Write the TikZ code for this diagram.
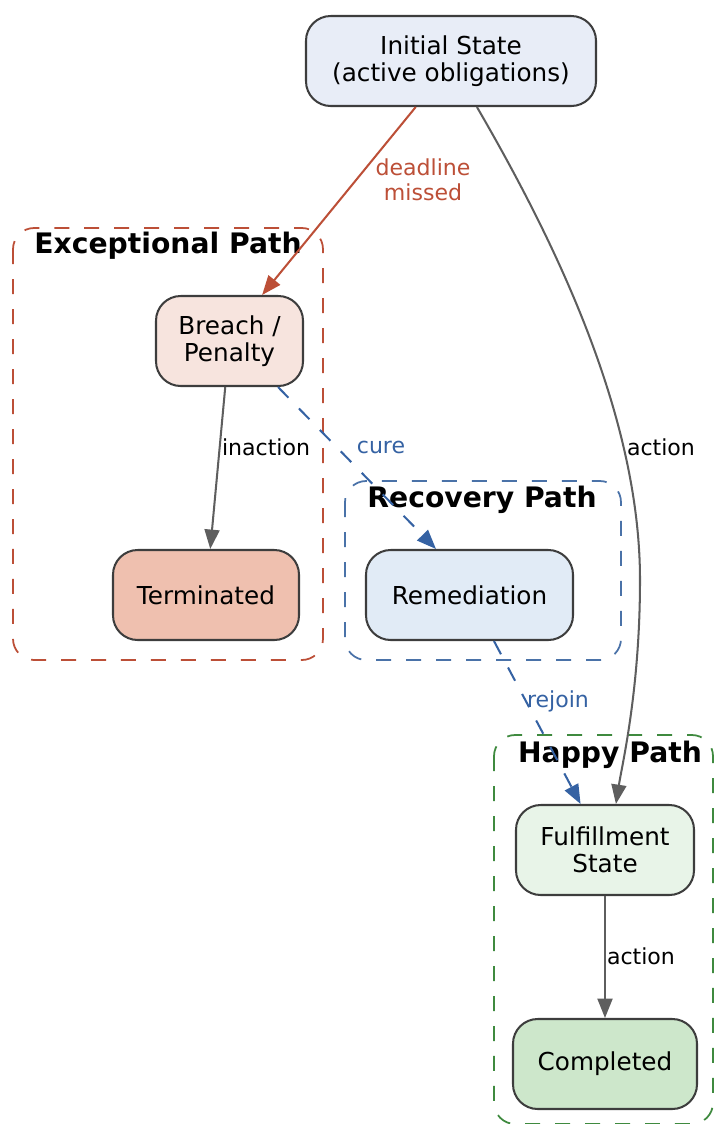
\documentclass[tikz,border=0pt]{standalone}
\usepackage{fontspec}
\setmainfont{DejaVu Sans}[BoldFont={DejaVu Sans Bold}]
\usetikzlibrary{arrows.meta}
\definecolor{nodeline}{HTML}{3D3D3D}
\definecolor{edgegray}{HTML}{5E5E5E}
\definecolor{exred}{HTML}{BC4F37}
\definecolor{recblue}{HTML}{3562A3}
\definecolor{clublue}{HTML}{4A72A8}
\definecolor{hapgreen}{HTML}{3F8A3F}
\definecolor{fillinit}{HTML}{E8EDF7}
\definecolor{fillbreach}{HTML}{F7E4DE}
\definecolor{fillterm}{HTML}{EFC0AF}
\definecolor{fillrem}{HTML}{E1EBF6}
\definecolor{fillfulf}{HTML}{E8F4E8}
\definecolor{fillcomp}{HTML}{CDE7CB}
\begin{document}
\begin{tikzpicture}[x=0.567pt,y=-0.567pt,
  state/.style={draw=nodeline, line width=1.15pt, rounded corners=14pt, inner sep=0pt,
    align=center, font=\fontsize{14}{15}\selectfont},
  cluster/.style={line width=1pt, dash pattern=on 8.5pt off 8.5pt, rounded corners=12pt},
  ctitle/.style={font=\fontsize{16}{17}\selectfont\bfseries, inner sep=0pt},
  elabel/.style={font=\fontsize{12.5}{14}\selectfont, align=center, inner sep=0pt},
  tip/.style={-{Triangle[length=11pt,width=8.5pt]}},
  grayedge/.style={tip, draw=edgegray, line width=1.15pt},
  blueedge/.style={tip, draw=recblue, line width=1.15pt, dash pattern=on 8.5pt off 8.5pt},
]
\useasboundingbox (0,0) rectangle (715,1124);

% clusters
\draw[cluster, draw=exred] (13,228) rectangle (323,660);
\node[ctitle] (tex) at (168,246) {Exceptional Path};
\draw[cluster, draw=clublue] (345,481) rectangle (621,660);
\node[ctitle] (trec) at (482,500) {Recovery Path};
\draw[cluster, draw=hapgreen] (494,735) rectangle (713,1124);
\node[ctitle] (thap) at (610,755) {Happy Path};

% nodes
\node[state, fill=fillinit, minimum width=290*0.567pt, minimum height=90*0.567pt] (init) at (451,61) {Initial State\\(active obligations)};
\node[state, fill=fillbreach, minimum width=147*0.567pt, minimum height=90*0.567pt] (breach) at (229.5,341) {Breach /\\Penalty};
\node[state, fill=fillterm, minimum width=186*0.567pt, minimum height=90*0.567pt] (term) at (206,595) {Terminated};
\node[state, fill=fillrem, minimum width=207*0.567pt, minimum height=90*0.567pt] (rem) at (469.5,595) {Remediation};
\node[state, fill=fillfulf, minimum width=178*0.567pt, minimum height=90*0.567pt] (fulf) at (605,850) {Fulfillment\\State};
\node[state, fill=fillcomp, minimum width=184*0.567pt, minimum height=90*0.567pt] (comp) at (605,1064) {Completed};

% edges
\draw[tip, draw=exred, line width=1.15pt] ([xshift=-20pt]init.south) -- ([xshift=18.5pt]breach.north);
\node[elabel, text=exred] (l1) at (423,180) {deadline\\missed};

\draw[grayedge] ([xshift=14.7pt]init.south) .. controls (560,250) and (640,420) .. (640,580)
   .. controls (640,690) and (622,765) .. ([xshift=6.2pt]fulf.north);
\node[elabel] (l2) at (661,447) {action};

\draw[grayedge] (breach) -- (term);
\node[elabel] (l3) at (266,447) {inaction};

\draw[blueedge] ([xshift=27.5pt]breach.south) -- ([xshift=-19pt]rem.north);
\node[elabel, text=recblue] (l4) at (381,447) {cure};

\draw[blueedge] (rem) -- (fulf);
\node[elabel, text=recblue] (l5) at (558,701) {rejoin};

\draw[grayedge] (fulf) -- (comp);
\node[elabel] (l6) at (641,956) {action};
\end{tikzpicture}
\end{document}
